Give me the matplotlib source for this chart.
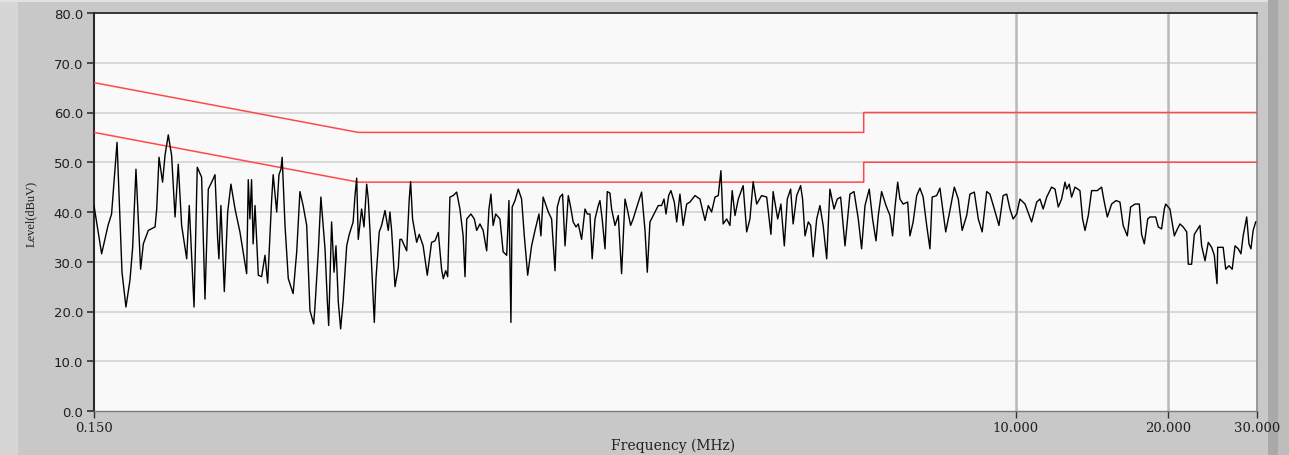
import matplotlib
matplotlib.use("Agg")
import matplotlib.pyplot as plt
from matplotlib.patches import Rectangle
from matplotlib.ticker import FixedLocator, NullLocator, FixedFormatter

# ---------------- data ----------------
freq_mhz = [
    0.150, 0.1553, 0.1599, 0.1625, 0.1666, 0.1704, 0.1735, 0.1767, 0.1789, 0.1816,
    0.1855, 0.1878, 0.1921, 0.1981, 0.1996, 0.2017, 0.2050, 0.2073, 0.2104, 0.2136,
    0.2170, 0.2202, 0.2236, 0.2288, 0.2315, 0.2366, 0.2401, 0.2449, 0.2487, 0.2525,
    0.2578, 0.2603, 0.2635, 0.2650, 0.2674, 0.2716, 0.2758, 0.2799, 0.2852, 0.2916,
    0.2959, 0.3007, 0.3029, 0.3052, 0.3075, 0.3097, 0.3124, 0.3171, 0.3219, 0.3269,
    0.3309, 0.3369, 0.3393, 0.3448, 0.3484, 0.3515, 0.3535, 0.3581, 0.3635, 0.3716,
    0.3777, 0.3833, 0.3889, 0.3953, 0.4012, 0.4081, 0.4106, 0.4167, 0.4217, 0.4260,
    0.4297, 0.4342, 0.4369, 0.4428, 0.4477, 0.4517, 0.4565, 0.4614, 0.4667, 0.4743,
    0.4799, 0.4884, 0.4926, 0.4964, 0.5000, 0.5076, 0.5132, 0.5195, 0.5233, 0.5273,
    0.5379, 0.5420, 0.5501, 0.5560, 0.5648, 0.5732, 0.5776, 0.5820, 0.5911, 0.6000,
    0.6045, 0.6091, 0.6234, 0.6307, 0.6346, 0.6403, 0.6524, 0.6601, 0.6719, 0.6847,
    0.6982, 0.7092, 0.7199, 0.7308, 0.7365, 0.7447, 0.7514, 0.7591, 0.7703, 0.7828,
    0.7945, 0.8062, 0.8131, 0.8194, 0.8353, 0.8483, 0.8575, 0.8703, 0.8831, 0.8975,
    0.9068, 0.9150, 0.9243, 0.9351, 0.9533, 0.9673, 0.9831, 0.9933, 1.0023, 1.0080,
    1.0211, 1.0364, 1.0522, 1.0653, 1.0818, 1.1012, 1.1185, 1.1388, 1.1490, 1.1607,
    1.1883, 1.2063, 1.2252, 1.2380, 1.2530, 1.2681, 1.2824, 1.3016, 1.3156, 1.3308,
    1.3482, 1.3623, 1.3830, 1.4046, 1.4193, 1.4365, 1.4512, 1.4701, 1.4922, 1.5035,
    1.5189, 1.5386, 1.5547, 1.5736, 1.5855, 1.6104, 1.6346, 1.6594, 1.6854, 1.7030,
    1.7290, 1.7490, 1.7824, 1.8177, 1.8463, 1.8655, 1.8882, 1.9234, 1.9613, 1.9911,
    2.0131, 2.0314, 2.0564, 2.0775, 2.1098, 2.1328, 2.1646, 2.1964, 2.2322, 2.2655,
    2.3185, 2.3711, 2.4266, 2.4631, 2.5005, 2.5397, 2.5779, 2.6090, 2.6355, 2.6784,
    2.7184, 2.7462, 2.7820, 2.8239, 2.8870, 2.9339, 2.9777, 3.0215, 3.0707, 3.1402,
    3.2138, 3.2764, 3.3097, 3.3790, 3.4291, 3.4826, 3.5302, 3.5841, 3.6255, 3.6846,
    3.7512, 3.7847, 3.8269, 3.8845, 3.9260, 3.9713, 4.0360, 4.0962, 4.1564, 4.2241,
    4.2871, 4.3673, 4.4332, 4.5009, 4.5919, 4.6961, 4.7839, 4.8781, 4.9523, 5.0299,
    5.1281, 5.2062, 5.2880, 5.3435, 5.4248, 5.5345, 5.6349, 5.7029, 5.7666, 5.8372,
    5.8975, 5.9842, 6.1093, 6.1724, 6.2631, 6.3651, 6.4601, 6.5550, 6.6618, 6.7612,
    6.8303, 6.9724, 7.0764, 7.1804, 7.2649, 7.3731, 7.5553, 7.6933, 7.8306, 7.9935,
    8.1128, 8.2761, 8.4273, 8.5777, 8.7561, 8.8867, 9.0656, 9.2593, 9.4376, 9.5915,
    9.7345, 9.8776, 10.038, 10.188, 10.427, 10.744, 10.997, 11.161, 11.325, 11.509,
    11.769, 11.954, 12.133, 12.318, 12.510, 12.606, 12.754, 12.891, 13.094, 13.391,
    13.553, 13.704, 13.910, 14.121, 14.493, 14.780, 14.943, 15.169, 15.469, 15.781,
    16.067, 16.304, 16.615, 16.869, 17.210, 17.546, 17.734, 17.955, 18.233, 18.421,
    18.911, 19.135, 19.426, 19.667, 19.793, 20.178, 20.331, 20.585, 20.809, 21.119,
    21.430, 21.779, 21.938, 22.271, 22.549, 23.134, 23.310, 23.674, 24.030, 24.396,
    24.700, 24.857, 25.003, 25.082, 25.713, 26.016, 26.404, 26.793, 27.142, 27.550,
    27.883, 28.166, 28.625, 28.922, 29.182, 29.479, 29.826,
]
level_dbuv = [
    41.3, 31.6, 37.3, 39.6, 54.0, 27.9, 20.9, 26.3, 32.9, 48.6,
    28.5, 33.6, 36.3, 37.0, 40.6, 51.0, 46.0, 51.4, 55.5, 51.4,
    39.0, 49.6, 37.3, 30.6, 41.3, 20.9, 49.0, 47.0, 22.5, 44.6,
    46.5, 47.5, 34.5, 30.6, 41.3, 24.0, 40.0, 45.6, 40.6, 36.0,
    32.0, 27.6, 46.5, 38.6, 46.5, 33.6, 41.3, 27.3, 27.0, 31.3,
    25.7, 42.3, 47.5, 40.0, 47.5, 48.6, 51.0, 37.3, 26.6, 23.6,
    32.0, 44.1, 41.3, 37.3, 20.2, 17.5, 21.2, 32.0, 43.0, 37.3,
    32.6, 22.2, 17.2, 38.0, 27.9, 33.2, 21.9, 16.5, 22.2, 33.2,
    35.5, 38.0, 43.3, 46.8, 34.5, 40.6, 37.0, 45.6, 42.6, 36.3,
    17.8, 26.6, 36.0, 37.3, 40.3, 36.3, 40.0, 36.3, 25.0, 28.8,
    34.5, 34.5, 32.2, 42.6, 46.1, 38.6, 33.9, 35.5, 33.2, 27.3,
    33.9, 34.2, 35.9, 28.5, 26.6, 28.2, 27.0, 43.0, 43.3, 44.0,
    40.6, 35.2, 27.0, 38.6, 39.6, 38.6, 36.3, 37.6, 36.3, 32.2,
    40.6, 43.6, 37.3, 39.6, 38.6, 32.0, 31.3, 42.3, 17.8, 41.0,
    42.3, 44.6, 42.6, 35.2, 27.3, 33.2, 36.3, 39.6, 35.2, 43.0,
    40.0, 38.6, 28.2, 41.0, 43.0, 43.6, 33.2, 43.3, 41.0, 38.0,
    37.0, 37.6, 34.5, 40.6, 39.6, 39.6, 30.6, 38.6, 41.3, 42.3,
    38.6, 32.6, 44.1, 43.8, 40.6, 37.3, 39.3, 27.6, 42.6, 40.6,
    37.3, 38.6, 41.3, 44.0, 36.3, 27.9, 38.0, 39.6, 41.3, 41.3,
    42.6, 39.6, 43.3, 44.3, 42.0, 38.0, 43.6, 37.3, 41.6, 42.0,
    43.3, 42.6, 38.3, 41.3, 40.0, 43.0, 43.3, 48.3, 37.6, 38.6,
    37.3, 44.3, 39.3, 42.6, 45.3, 36.0, 38.6, 46.1, 41.6, 43.3,
    43.0, 35.5, 44.1, 38.6, 41.6, 33.2, 42.6, 44.6, 37.6, 43.3,
    45.3, 42.6, 35.2, 38.0, 37.3, 31.0, 38.6, 41.3, 37.3, 30.6,
    44.6, 40.6, 42.6, 43.0, 33.2, 43.6, 44.1, 38.6, 32.6, 41.3,
    44.6, 38.6, 34.2, 39.3, 44.1, 41.3, 39.3, 35.2, 41.0, 46.0,
    42.6, 41.6, 42.0, 35.2, 38.0, 43.3, 44.8, 43.0, 37.3, 32.6,
    43.0, 43.3, 44.8, 40.0, 36.0, 39.3, 45.0, 42.6, 36.3, 39.3,
    43.6, 44.0, 38.6, 36.0, 44.1, 43.6, 40.6, 37.3, 43.3, 43.6,
    40.6, 38.6, 39.6, 42.6, 41.6, 38.0, 42.0, 42.6, 40.6, 43.0,
    45.0, 44.6, 41.0, 42.6, 46.0, 44.6, 45.6, 43.0, 45.0, 44.3,
    38.6, 36.3, 39.3, 44.3, 44.3, 45.0, 42.3, 39.0, 41.6, 42.3,
    42.0, 37.3, 35.2, 41.0, 41.6, 41.6, 35.5, 33.6, 38.6, 39.0,
    39.0, 37.0, 36.6, 40.6, 41.6, 40.6, 38.6, 35.2, 36.3, 37.6,
    37.0, 36.0, 29.5, 29.5, 35.5, 37.3, 33.2, 30.2, 33.9, 32.9,
    31.3, 28.2, 25.6, 32.9, 32.9, 28.5, 29.2, 28.5, 33.2, 32.6,
    31.6, 35.2, 39.0, 33.6, 32.6, 36.3, 38.0,
]

qp_limit_freq = [0.15, 0.5, 5.0, 5.0, 30.0]
qp_limit_level = [66.0, 56.0, 56.0, 60.0, 60.0]
av_limit_freq = [0.15, 0.5, 5.0, 5.0, 30.0]
av_limit_level = [56.0, 46.0, 46.0, 50.0, 50.0]

y_ticks = [0, 10, 20, 30, 40, 50, 60, 70, 80]
y_tick_labels = ["0.0", "10.0", "20.0", "30.0", "40.0", "50.0", "60.0", "70.0", "80.0"]
x_ticks = [0.15, 10.0, 20.0, 30.0]
x_tick_labels = ["0.150", "10.000", "20.000", "30.000"]
x_grid = [10.0, 20.0]

# ---------------- figure ----------------
W, H = 1289, 456
fig = plt.figure(figsize=(W / 100, H / 100), dpi=100)
fig.patch.set_facecolor("#c8c8c8")

# frame decorations of the instrument window
fig.add_artist(Rectangle((0, 0), 18 / W, 1, transform=fig.transFigure,
                         facecolor="#d6d6d6", edgecolor="none", zorder=0))
fig.add_artist(Rectangle((0, 1 - 3 / H), 1, 3 / H, transform=fig.transFigure,
                         facecolor="#e2e2e2", edgecolor="none", zorder=0))
fig.add_artist(Rectangle((1268 / W, 0), 21 / W, 1, transform=fig.transFigure,
                         facecolor="#a9a9a9", edgecolor="none", zorder=0))
fig.add_artist(Rectangle((1278 / W, 0), 11 / W, 1, transform=fig.transFigure,
                         facecolor="#bdbdbd", edgecolor="none", zorder=0))

left, right, top, bottom = 94, 1257, 14, 412
ax = fig.add_axes([left / W, (H - bottom) / H, (right - left) / W, (bottom - top) / H])
ax.set_facecolor("#f9f9f9")
ax.set_xscale("log")
ax.set_xlim(0.15, 30.0)
ax.set_ylim(0, 80)

# grid
for yv in y_ticks[1:-1]:
    ax.axhline(yv, color="#d6d6d6", lw=1.3, zorder=1)
for xv in x_grid:
    ax.axvline(xv, color="#b9b9b9", lw=1.8, zorder=1)

# limit lines
ax.plot(qp_limit_freq, qp_limit_level, color="#ff4a4a", lw=1.1, zorder=3)
ax.plot(av_limit_freq, av_limit_level, color="#ff4a4a", lw=1.1, zorder=3)

# measurement trace
ax.plot(freq_mhz, level_dbuv, color="#000000", lw=1.0, zorder=4)

# ticks
ax.yaxis.set_major_locator(FixedLocator(y_ticks))
ax.yaxis.set_major_formatter(FixedFormatter(y_tick_labels))
ax.yaxis.set_minor_locator(NullLocator())
ax.xaxis.set_major_locator(FixedLocator(x_ticks))
ax.xaxis.set_major_formatter(FixedFormatter(x_tick_labels))
ax.xaxis.set_minor_locator(NullLocator())

ax.tick_params(axis="y", direction="out", length=5, width=1.2, color="#303030",
               pad=3, labelsize=9.5, labelcolor="#202020")
ax.tick_params(axis="x", direction="out", length=5, width=1.0, color="#303030",
               pad=2, labelsize=9.5, labelcolor="#202020")
for lab in ax.get_yticklabels():
    lab.set_fontfamily("DejaVu Sans")
for lab in ax.get_xticklabels():
    lab.set_fontfamily("DejaVu Serif")

# spines
ax.spines["left"].set_color("#2a2a2a")
ax.spines["left"].set_linewidth(1.5)
ax.spines["top"].set_color("#2a2a2a")
ax.spines["top"].set_linewidth(1.3)
ax.spines["bottom"].set_color("#7a7a7a")
ax.spines["bottom"].set_linewidth(1.0)
ax.spines["right"].set_color("#8a8a8a")
ax.spines["right"].set_linewidth(1.2)

# axis titles
fig.text(673 / W, 1 - 446 / H, "Frequency (MHz)", ha="center", va="center",
         fontsize=10, family="DejaVu Serif", color="#202020")
fig.text(31 / W, 1 - 214 / H, "Level(dBuV)", ha="center", va="center",
         rotation=90, fontsize=9, family="Liberation Serif", color="#202020")

fig.savefig("out.png", dpi=100, facecolor=fig.get_facecolor())
